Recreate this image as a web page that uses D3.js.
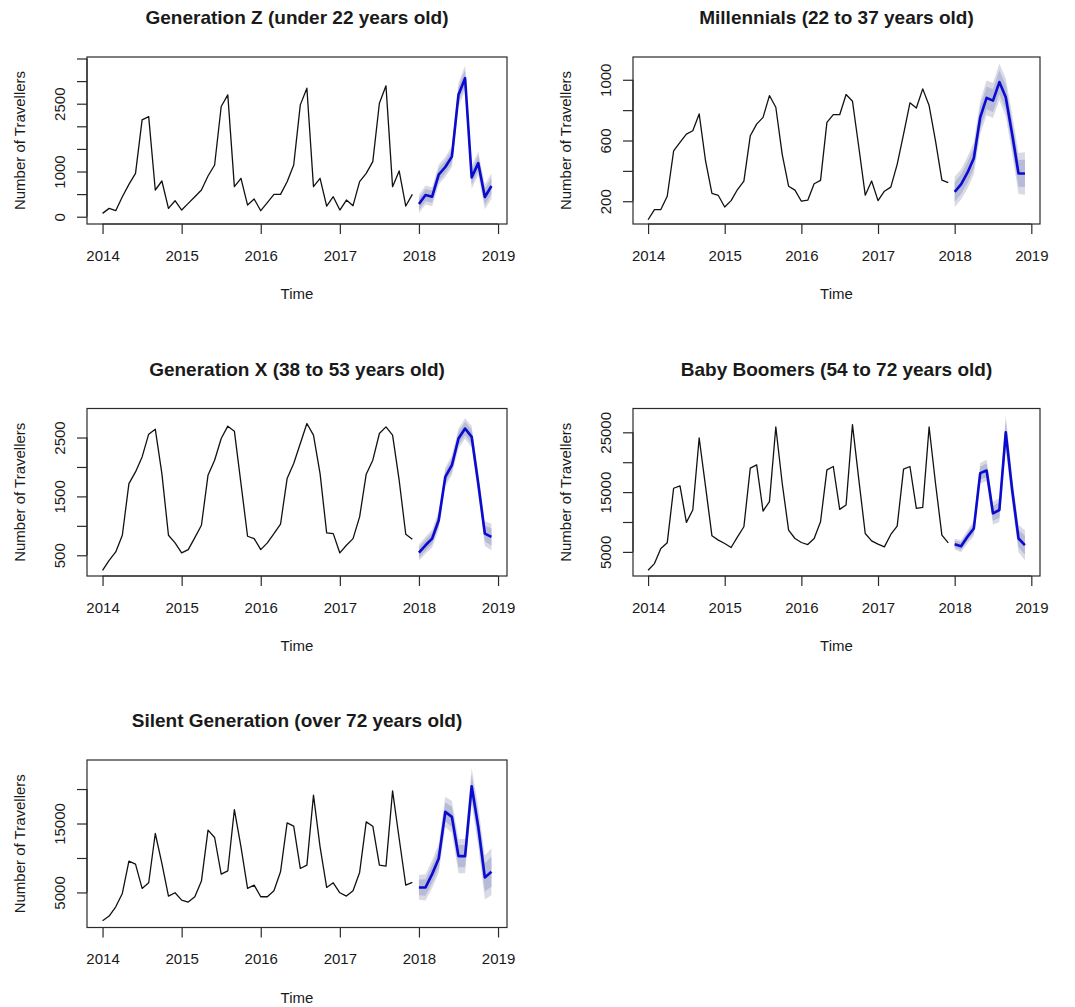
<!DOCTYPE html>
<html>
<head>
<meta charset="utf-8">
<script src="https://cdn.jsdelivr.net/npm/d3@7"></script>
<style>
body { margin: 0; background: #fff; }
text { font-family: "Liberation Sans", Arial, sans-serif; fill: #1a1a1a; }
</style>
</head>
<body>
<div id="chart"></div>
<script>
// monthly series, Jan 2014 - Dec 2017, then 12 month forecast for 2018
var yearTicks = [2014, 2015, 2016, 2017, 2018, 2019];

var genZHist = [74, 185, 133, 443, 716, 960, 2142, 2215, 591, 790, 185, 354,
  148, 295, 443, 591, 900, 1145, 2437, 2695, 665, 850, 258, 391,
  133, 310, 495, 495, 775, 1145, 2474, 2843, 665, 850, 236, 443,
  148, 369, 244, 775, 960, 1218, 2511, 2895, 665, 1012, 236, 495];
var genZFc = [281, 480, 443, 930, 1100, 1330, 2700, 3065, 870, 1185, 436, 680];
var genZW80 = [130, 135, 135, 140, 140, 150, 170, 180, 160, 170, 175, 180];
var genZW95 = [200, 210, 210, 220, 220, 230, 260, 280, 250, 260, 270, 280];

var millHist = [78, 145, 145, 233, 531, 587, 642, 664, 775, 465, 251, 238,
  162, 204, 277, 333, 631, 708, 752, 896, 819, 509, 299, 273,
  200, 207, 315, 337, 719, 770, 770, 903, 859, 554, 240, 333,
  204, 266, 293, 443, 642, 848, 814, 940, 830, 598, 339, 322];
var millFc = [262, 311, 388, 483, 752, 881, 863, 985, 885, 642, 383, 383];
var millW80 = [65, 65, 68, 68, 72, 75, 75, 78, 80, 85, 88, 90];
var millW95 = [100, 100, 105, 105, 110, 115, 115, 120, 125, 130, 135, 140];

var genXHist = [245, 415, 557, 840, 1718, 1916, 2171, 2557, 2642, 1888, 840, 710,
  540, 596, 800, 1010, 1860, 2115, 2483, 2693, 2608, 1718, 823, 783,
  596, 710, 868, 1027, 1803, 2058, 2398, 2738, 2540, 1888, 880, 868,
  540, 670, 783, 1152, 1877, 2115, 2568, 2681, 2540, 1775, 857, 772];
var genXFc = [545, 670, 783, 1095, 1832, 2030, 2483, 2653, 2512, 1718, 868, 812];
var genXW80 = [90, 93, 96, 100, 103, 106, 110, 113, 118, 125, 135, 145];
var genXW95 = [140, 145, 150, 155, 160, 165, 170, 175, 185, 195, 210, 225];

var boomHist = [1919, 3039, 5560, 6513, 15644, 16036, 9930, 12003, 24047, 15924, 7689, 6961,
  6400, 5728, 7521, 9201, 19005, 19565, 11834, 13403, 25895, 16484, 8641, 7241,
  6569, 6233, 7241, 10042, 18725, 19285, 12115, 12843, 26288, 17044, 8081, 6849,
  6289, 5840, 7913, 9314, 18837, 19285, 12283, 12451, 25895, 16484, 7801, 6513];
var boomFc = [6289, 5952, 7521, 8921, 18165, 18613, 11442, 12003, 25000, 15364, 7241, 6120];
var boomW80 = [580, 640, 700, 830, 1090, 1150, 1220, 1280, 1860, 1470, 1470, 1600];
var boomW95 = [900, 1000, 1100, 1300, 1700, 1800, 1900, 2000, 2900, 2300, 2300, 2500];

var silentHist = [894, 1570, 2923, 4855, 9541, 9106, 5580, 6401, 13551, 9203, 4469, 4952,
  3889, 3599, 4372, 6643, 14034, 12971, 7657, 8140, 17029, 11618, 5580, 6063,
  4372, 4372, 5242, 7995, 15097, 14614, 8478, 8961, 19107, 11618, 5725, 6401,
  4952, 4469, 5242, 7899, 15242, 14614, 8961, 8817, 19735, 12826, 6063, 6449];
var silentFc = [5725, 5725, 7657, 9927, 16691, 15966, 10266, 10266, 20411, 14517, 7174, 7995];
var silentW80 = [1150, 1200, 1280, 1350, 1400, 1470, 1600, 1600, 1660, 1850, 2050, 2180];
var silentW95 = [1800, 1900, 2000, 2100, 2200, 2300, 2500, 2500, 2600, 2900, 3200, 3400];

var titles = ["Generation Z (under 22 years old)", "Millennials (22 to 37 years old)",
  "Generation X (38 to 53 years old)", "Baby Boomers (54 to 72 years old)",
  "Silent Generation (over 72 years old)"];
var yLimits = [[-161, 3533], [50, 1150], [148, 2993], [966, 28983], [-87, 24215]];
var yTicks = [[0, 500, 1000, 1500, 2000, 2500, 3000, 3500], [200, 400, 600, 800, 1000],
  [500, 1000, 1500, 2000, 2500], [5000, 10000, 15000, 20000, 25000], [5000, 10000, 15000, 20000]];
var yLabels = [[0, 1000, 2500], [200, 600, 1000], [500, 1500, 2500], [5000, 15000, 25000], [5000, 15000]];

var panels = [
  {hist: genZHist, fc: genZFc, w80: genZW80, w95: genZW95},
  {hist: millHist, fc: millFc, w80: millW80, w95: millW95},
  {hist: genXHist, fc: genXFc, w80: genXW80, w95: genXW95},
  {hist: boomHist, fc: boomFc, w80: boomW80, w95: boomW95},
  {hist: silentHist, fc: silentFc, w80: silentW80, w95: silentW95}
];

var svgWidth = 1075;
var svgHeight = 1007;

// plot boxes, per column and per row
var cols = [[87, 507], [633, 1040]];
var rows = [[57, 224], [408.5, 576], [760, 927.5]];

var svg = d3.select("#chart")
  .append("svg")
  .attr("width", svgWidth)
  .attr("height", svgHeight);

svg.append("rect").attr("width", svgWidth).attr("height", svgHeight).attr("fill", "#fff");

// R pads the time range by 4%
var tStart = 2014, tEnd = 2018 + 11 / 12;
var pad = (tEnd - tStart) * 0.04;
var xLimits = [tStart - pad, tEnd + pad];

panels.forEach(function(p, k) {
  var col = cols[k % 2];
  var row = rows[Math.floor(k / 2)];
  var x0 = col[0], x1 = col[1], y0 = row[0], y1 = row[1];
  var cx = (x0 + x1) / 2;

  var x = d3.scaleLinear().domain(xLimits).range([x0, x1]);
  var y = d3.scaleLinear().domain(yLimits[k]).range([y1, y0]);

  var g = svg.append("g");

  var histData = p.hist.map(function(v, i) { return {t: 2014 + i / 12, v: v}; });
  var fcData = p.fc.map(function(v, i) {
    return {t: 2018 + i / 12, v: v, w80: p.w80[i], w95: p.w95[i]};
  });

  // prediction bands
  var area95 = d3.area().x(d => x(d.t)).y0(d => y(d.v - d.w95)).y1(d => y(d.v + d.w95));
  var area80 = d3.area().x(d => x(d.t)).y0(d => y(d.v - d.w80)).y1(d => y(d.v + d.w80));
  g.append("path").datum(fcData).attr("d", area95).attr("fill", "#d9dae4");
  g.append("path").datum(fcData).attr("d", area80).attr("fill", "#b7bbd8");

  var line = d3.line().x(d => x(d.t)).y(d => y(d.v));
  g.append("path").datum(histData).attr("d", line)
    .attr("fill", "none").attr("stroke", "#111").attr("stroke-width", 1.3)
    .attr("stroke-linejoin", "round");
  g.append("path").datum(fcData).attr("d", line)
    .attr("fill", "none").attr("stroke", "#0a0ad0").attr("stroke-width", 2.6)
    .attr("stroke-linejoin", "round");

  // box
  g.append("rect")
    .attr("x", x0).attr("y", y0)
    .attr("width", x1 - x0).attr("height", y1 - y0)
    .attr("fill", "none").attr("stroke", "#2a2a2a").attr("stroke-width", 1.2);

  // x axis
  var xAxis = g.append("g")
    .attr("transform", `translate(0, ${y1})`)
    .call(d3.axisBottom(x).tickValues(yearTicks).tickFormat(d3.format("d"))
      .tickSize(10).tickSizeOuter(0).tickPadding(16));
  xAxis.select(".domain").remove();
  xAxis.selectAll("line").attr("stroke", "#2a2a2a").attr("stroke-width", 1.2);
  xAxis.selectAll("text").attr("font-size", 15).attr("font-family", null).attr("fill", "#1a1a1a");
  xAxis.append("line")
    .attr("x1", x(yearTicks[0])).attr("x2", x(yearTicks[yearTicks.length - 1]))
    .attr("stroke", "#2a2a2a").attr("stroke-width", 1.2);

  // y axis, labels rotated like R
  var labs = yLabels[k];
  var yAxis = g.append("g")
    .attr("transform", `translate(${x0}, 0)`)
    .call(d3.axisLeft(y).tickValues(yTicks[k])
      .tickFormat(d => labs.indexOf(d) >= 0 ? d : "")
      .tickSize(10).tickSizeOuter(0));
  yAxis.select(".domain").remove();
  yAxis.selectAll("line").attr("stroke", "#2a2a2a").attr("stroke-width", 1.2);
  yAxis.selectAll("text")
    .attr("x", null).attr("dy", null)
    .attr("font-size", 15).attr("font-family", null).attr("fill", "#1a1a1a")
    .attr("text-anchor", "middle")
    .attr("transform", "translate(-22,0) rotate(-90)");
  yAxis.append("line")
    .attr("y1", y(yTicks[k][0])).attr("y2", y(yTicks[k][yTicks[k].length - 1]))
    .attr("stroke", "#2a2a2a").attr("stroke-width", 1.2);

  // titles
  g.append("text")
    .attr("x", cx).attr("y", y0 - 33)
    .attr("text-anchor", "middle")
    .attr("font-size", 19).attr("font-weight", "bold")
    .text(titles[k]);

  g.append("text")
    .attr("x", cx).attr("y", y1 + 75)
    .attr("text-anchor", "middle")
    .attr("font-size", 15)
    .text("Time");

  g.append("text")
    .attr("transform", `translate(${x0 - 62}, ${(y0 + y1) / 2}) rotate(-90)`)
    .attr("text-anchor", "middle")
    .attr("font-size", 15)
    .text("Number of Travellers");
});
</script>
</body>
</html>
